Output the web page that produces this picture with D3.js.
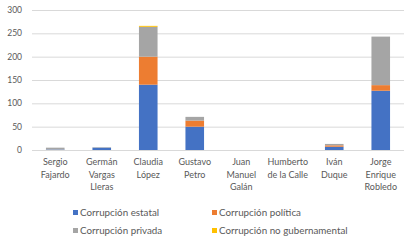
<!DOCTYPE html>
<html>
<head>
<meta charset="utf-8">
<script src="https://cdn.jsdelivr.net/npm/d3@7"></script>
<style>
  body { margin: 0; background: #fff; }
  text { font-family: Lato, "Open Sans", sans-serif; fill: #595959; }
</style>
</head>
<body>
<svg id="chart"></svg>
<script>
const candidates = [
  ["Sergio", "Fajardo"],
  ["Germán", "Vargas", "Lleras"],
  ["Claudia", "López"],
  ["Gustavo", "Petro"],
  ["Juan", "Manuel", "Galán"],
  ["Humberto", "de la Calle"],
  ["Iván", "Duque"],
  ["Jorge", "Enrique", "Robledo"]
];
const seriesNames = ["Corrupción estatal", "Corrupción política", "Corrupción privada", "Corrupción no gubernamental"];
const estatal = [1, 5, 140, 50, 0, 0, 7, 127];
const politica = [0, 0, 60, 13, 0, 0, 3, 12];
const privada = [4, 1, 64, 8, 0, 0, 3, 104];
const noGubernamental = [0, 0, 2, 0, 0, 0, 0, 0];
const yTicks = [0, 50, 100, 150, 200, 250, 300];
const colors = ["#4472c4", "#ed7d31", "#a5a5a5", "#ffc000"];

const width = 411, height = 243;
const margin = { top: 10, right: 7, bottom: 93, left: 32 };

const svg = d3.select("#chart").attr("width", width).attr("height", height);

const rows = candidates.map((c, i) => ({
  key: i,
  estatal: estatal[i],
  politica: politica[i],
  privada: privada[i],
  nogub: noGubernamental[i]
}));
const keys = ["estatal", "politica", "privada", "nogub"];
const stacked = d3.stack().keys(keys)(rows);

const x = d3.scaleBand()
  .domain(d3.range(candidates.length))
  .range([margin.left, width - margin.right])
  .paddingInner(0.6)
  .paddingOuter(0.3);

const y = d3.scaleLinear().domain([0, 300]).range([height - margin.bottom, margin.top]);

// grid
svg.append("g")
  .selectAll("line")
  .data(yTicks)
  .join("line")
  .attr("x1", margin.left)
  .attr("x2", width - margin.right)
  .attr("y1", d => y(d) + 0.5)
  .attr("y2", d => y(d) + 0.5)
  .attr("stroke", "#d9d9d9")
  .attr("stroke-width", 1);

// y labels
svg.append("g")
  .selectAll("text")
  .data(yTicks)
  .join("text")
  .attr("x", margin.left - 10)
  .attr("y", d => y(d))
  .attr("dy", "0.35em")
  .attr("text-anchor", "end")
  .attr("font-size", 8.5)
  .text(d => d);

// bars
svg.append("g")
  .selectAll("g")
  .data(stacked)
  .join("g")
  .attr("fill", (d, i) => colors[i])
  .selectAll("rect")
  .data(d => d)
  .join("rect")
  .attr("x", (d, i) => x(i))
  .attr("width", x.bandwidth())
  .attr("y", d => y(d[1]))
  .attr("height", d => y(d[0]) - y(d[1]));

// x labels
const xl = svg.append("g")
  .selectAll("text")
  .data(candidates)
  .join("text")
  .attr("x", (d, i) => x(i) + x.bandwidth() / 2)
  .attr("y", 165)
  .attr("text-anchor", "middle")
  .attr("font-size", 9);
xl.selectAll("tspan")
  .data(d => d)
  .join("tspan")
  .attr("x", function () { return d3.select(this.parentNode).attr("x"); })
  .attr("dy", (d, i) => i === 0 ? 0 : 12.5)
  .text(d => d);

// legend
const legendPos = [[73, 213], [212, 213], [73, 231], [212, 231]];
const lg = svg.append("g")
  .selectAll("g")
  .data(seriesNames)
  .join("g")
  .attr("transform", (d, i) => `translate(${legendPos[i][0]},${legendPos[i][1]})`);
lg.append("rect")
  .attr("x", 0).attr("y", -3)
  .attr("width", 5).attr("height", 5)
  .attr("fill", (d, i) => colors[i]);
lg.append("text")
  .attr("x", 7)
  .attr("y", 0)
  .attr("dy", "0.33em")
  .attr("font-size", 9.8)
  .text(d => d);
</script>
</body>
</html>
